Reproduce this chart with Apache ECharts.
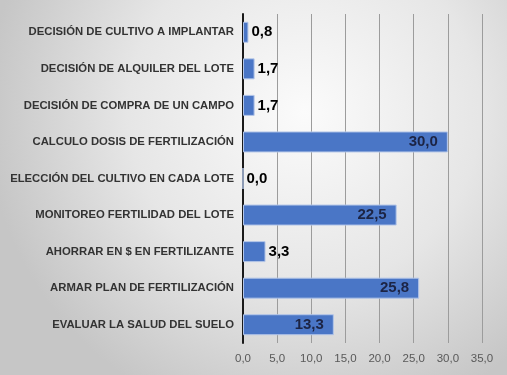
<!DOCTYPE html>
<html>
<head>
<meta charset="utf-8">
<script src="https://cdn.jsdelivr.net/npm/echarts@6/dist/echarts.min.js"></script>
<style>
  html, body { margin: 0; padding: 0; }
  #chart { width: 507px; height: 375px; }
</style>
</head>
<body>
<div id="chart"></div>
<script>
// categorías (de arriba hacia abajo)
var categories = [
    'DECISIÓN DE CULTIVO A IMPLANTAR',
    'DECISIÓN DE ALQUILER DEL LOTE',
    'DECISIÓN DE COMPRA DE UN CAMPO',
    'CALCULO DOSIS DE FERTILIZACIÓN',
    'ELECCIÓN DEL CULTIVO EN CADA LOTE',
    'MONITOREO FERTILIDAD DEL LOTE',
    'AHORRAR EN $ EN FERTILIZANTE',
    'ARMAR PLAN DE FERTILIZACIÓN',
    'EVALUAR LA SALUD DEL SUELO'
];
var values = [0.8, 1.7, 1.7, 30.0, 0.0, 22.5, 3.3, 25.8, 13.3];

function fmt(v) {
    return v.toFixed(1).replace('.', ',');
}

var myChart = echarts.init(document.getElementById('chart'));

// etiquetas: dentro de la barra si es larga, afuera si es corta
var barData = values.map(function (v) {
    var inside = v >= 5;
    return {
        value: v,
        label: {
            position: inside ? 'insideRight' : 'right',
            distance: inside ? 10 : 3,
            color: inside ? '#1c2444' : '#000'
        }
    };
});

var option = {
    backgroundColor: {
        type: 'radial', x: 0.6, y: 0.3, r: 0.85,
        colorStops: [
            {offset: 0, color: '#fbfbfb'},
            {offset: 0.55, color: '#e6e6e6'},
            {offset: 1, color: '#c6c6c6'}
        ]
    },
    grid: {left: 243, right: 25, top: 14, bottom: 32},
    xAxis: {
        type: 'value',
        min: 0,
        max: 35,
        interval: 5,
        axisLine: {show: false},
        axisTick: {show: false},
        axisLabel: {
            formatter: fmt,
            color: '#595959',
            fontFamily: 'Arial',
            fontSize: 11.5,
            margin: 10
        },
        splitLine: {lineStyle: {color: '#9c9c9c', width: 1}}
    },
    yAxis: {
        type: 'category',
        inverse: true,
        data: categories,
        axisLine: {lineStyle: {color: '#1a1a1a', width: 2}},
        axisTick: {show: false},
        axisLabel: {
            color: '#333333',
            fontFamily: 'Arial',
            fontWeight: 'bold',
            fontSize: 11.3,
            margin: 9
        }
    },
    series: [{
        type: 'bar',
        data: barData,
        barWidth: 21,
        itemStyle: {color: '#4a76c6', borderColor: '#b4c6e8', borderWidth: 1},
        label: {
            show: true,
            fontFamily: 'Arial',
            fontWeight: 'bold',
            fontSize: 15,
            formatter: function (p) { return fmt(p.value); }
        }
    }]
};

myChart.setOption(option);
</script>
</body>
</html>
